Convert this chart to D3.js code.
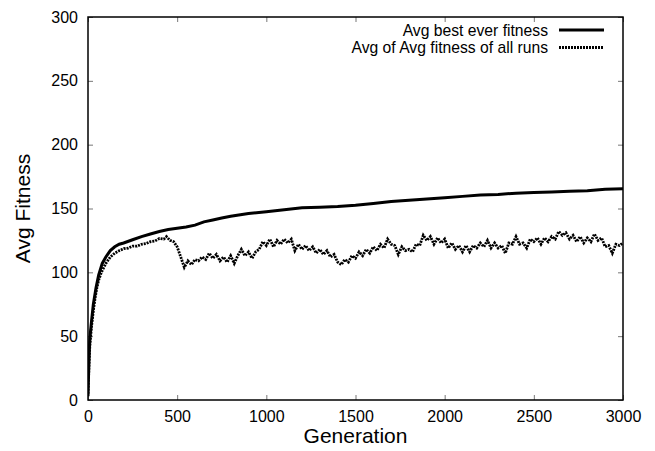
<!DOCTYPE html>
<html>
<head>
<meta charset="utf-8">
<script src="https://cdn.jsdelivr.net/npm/d3@7"></script>
<style>
  body { margin: 0; background: #fff; }
  #chart-area { width: 655px; height: 451px; }
  .axis text { font-family: "Liberation Sans", Arial, sans-serif; font-size: 16px; fill: #000; }
  .axis-title { font-family: "Liberation Sans", Arial, sans-serif; font-size: 21px; fill: #000; }
  .legend text { font-family: "Liberation Sans", Arial, sans-serif; font-size: 15.7px; fill: #000; }
</style>
</head>
<body>
<div id="chart-area"></div>
<script>

// generation / value pairs
var bestGen = [0, 5, 10, 20, 30, 45, 60, 80, 100, 125, 150, 175, 200, 250, 300, 350, 400, 450, 500, 550,
  600, 650, 700, 750, 800, 900, 1000, 1100, 1200, 1300, 1400, 1500, 1600, 1700, 1800, 1900, 2000,
  2100, 2200, 2300, 2400, 2500, 2600, 2700, 2800, 2900, 3000];
var bestVal = [3, 30, 48, 62, 75, 88, 98, 107, 112, 117, 120, 122, 123, 125.5, 128, 130, 132, 133.5, 134.5, 135.5,
  137, 139.5, 141, 142.5, 144, 146, 147.5, 149, 150.5, 151, 151.5, 152.5, 154, 155.5, 156.5, 157.5, 158.5,
  159.5, 160.5, 161, 162, 162.5, 163, 163.5, 164, 165, 165.5];

var avgGen = [0, 5, 10, 20, 30, 40, 50, 60, 75, 100, 125, 150, 175, 200, 225, 250, 275, 300, 325, 350,
  375, 400, 425, 440, 460, 480,
  500, 520, 540, 560, 580, 600, 620, 640, 660, 680, 700, 720, 740, 760, 780, 800, 820, 840, 860, 880,
  900, 920, 940, 960, 980, 1000, 1020, 1040, 1060, 1080, 1100, 1120, 1140, 1160, 1180, 1200, 1220, 1240, 1260, 1280,
  1300, 1320, 1340, 1360, 1380, 1400, 1420, 1440, 1460, 1480, 1500, 1520, 1540, 1560, 1580, 1600, 1620, 1640, 1660, 1680,
  1700, 1720, 1740, 1760, 1780, 1800, 1820, 1840, 1860, 1880, 1900, 1920, 1940, 1960, 1980, 2000, 2020, 2040, 2060, 2080,
  2100, 2120, 2140, 2160, 2180, 2200, 2220, 2240, 2260, 2280, 2300, 2320, 2340, 2360, 2380, 2400, 2420, 2440, 2460, 2480,
  2500, 2520, 2540, 2560, 2580, 2600, 2620, 2640, 2660, 2680, 2700, 2720, 2740, 2760, 2780, 2800, 2820, 2840, 2860, 2880,
  2900, 2920, 2940, 2960, 2980, 3000];
var avgVal = [5, 25, 42, 58, 70, 80, 88, 94, 100, 107, 112, 115, 117, 118.5, 119, 120.5, 120.5, 122, 122.5, 124,
  124.5, 126.5, 126, 128, 125, 124,
  120, 112, 104, 109, 106, 110, 109, 112, 110, 115, 111, 114, 109, 112, 108, 113, 107, 113, 118, 113,
  116, 111, 116, 118, 124, 121, 126, 120, 125, 122, 126, 123, 126, 117, 122, 118, 121, 117, 120, 115,
  118, 114, 117, 112, 114, 108, 106, 110, 108, 113, 111, 116, 113, 118, 115, 120, 117, 122, 119, 126,
  122, 121, 114, 120, 117, 118, 116, 122, 121, 129, 125, 128, 122, 127, 123, 126, 119, 123, 118, 121,
  116, 121, 116, 121, 119, 123, 120, 125, 119, 123, 119, 121, 115, 123, 122, 128, 122, 123, 119, 126,
  124, 127, 122, 127, 124, 128, 126, 132, 129, 131, 126, 129, 124, 128, 123, 127, 124, 130, 125, 127,
  120, 121, 115, 122, 121, 123];

var xTicks = [0, 500, 1000, 1500, 2000, 2500, 3000];
var yTicks = [0, 50, 100, 150, 200, 250, 300];

var seriesNames = ["Avg best ever fitness", "Avg of Avg fitness of all runs"];
var seriesDash = [null, "2,1"];


FitnessChart = function(_parentElement){
  this.parentElement = _parentElement;
  this.initVis();
}

FitnessChart.prototype.initVis = function(){
  var vis = this;

  vis.margin = { top: 17, right: 32, bottom: 51, left: 88 };
  vis.width = 655 - vis.margin.left - vis.margin.right;
  vis.height = 451 - vis.margin.top - vis.margin.bottom;

  vis.svg = d3.select("#" + vis.parentElement).append("svg")
      .attr("width", 655)
      .attr("height", 451)
    .append("g")
      .attr("transform", "translate(" + vis.margin.left + "," + vis.margin.top + ")");

  vis.x = d3.scaleLinear().range([0, vis.width]).domain([0, 3000]);
  vis.y = d3.scaleLinear().range([vis.height, 0]).domain([0, 300]);

  vis.svg.append("clipPath").attr("id", "plot-clip")
    .append("rect")
      .attr("width", vis.width)
      .attr("height", vis.height);

  // axes with inward ticks, mirrored on top/right
  var tickLen = 5;
  var fmt = d3.format("d");
  vis.svg.append("g")
      .attr("class", "x-axis axis")
      .attr("transform", "translate(0," + vis.height + ")")
      .call(d3.axisBottom(vis.x).tickValues(xTicks).tickFormat(fmt).tickSizeInner(-tickLen).tickSizeOuter(0).tickPadding(11));
  vis.svg.append("g")
      .attr("class", "y-axis axis")
      .call(d3.axisLeft(vis.y).tickValues(yTicks).tickFormat(fmt).tickSizeInner(-tickLen).tickSizeOuter(0).tickPadding(10));
  vis.svg.append("g")
      .attr("class", "axis")
      .call(d3.axisTop(vis.x).tickValues(xTicks).tickSizeInner(-tickLen).tickSizeOuter(0).tickFormat(""));
  vis.svg.append("g")
      .attr("class", "axis")
      .attr("transform", "translate(" + vis.width + ",0)")
      .call(d3.axisRight(vis.y).tickValues(yTicks).tickSizeInner(-tickLen).tickSizeOuter(0).tickFormat(""));

  vis.svg.selectAll(".axis .domain").remove();
  vis.svg.selectAll(".axis line").attr("stroke", "#777").attr("stroke-width", 1);

  vis.svg.append("rect")
      .attr("width", vis.width)
      .attr("height", vis.height)
      .attr("fill", "none")
      .attr("stroke", "#000")
      .attr("stroke-width", 1.5);

  vis.svg.append("text")
      .attr("class", "axis-title")
      .attr("x", vis.width / 2)
      .attr("y", vis.height + 43)
      .attr("text-anchor", "middle")
      .text("Generation");

  vis.svg.append("text")
      .attr("class", "axis-title")
      .attr("transform", "translate(-58," + (vis.height / 2) + ") rotate(-90)")
      .attr("text-anchor", "middle")
      .text("Avg Fitness");

  vis.updateVis();
}

FitnessChart.prototype.updateVis = function(){
  var vis = this;

  var best = bestGen.map(function(g, i) { return { g: g, v: bestVal[i] }; });
  var avg = avgGen.map(function(g, i) { return { g: g, v: avgVal[i] }; });

  var line = d3.line()
      .x(function(d) { return vis.x(d.g); })
      .y(function(d) { return vis.y(d.v); });

  var lines = vis.svg.append("g").attr("clip-path", "url(#plot-clip)");

  lines.append("path")
      .datum(avg)
      .attr("d", line)
      .attr("fill", "none")
      .attr("stroke", "#000")
      .attr("stroke-width", 2.8)
      .attr("stroke-dasharray", seriesDash[1]);

  lines.append("path")
      .datum(best)
      .attr("d", line)
      .attr("fill", "none")
      .attr("stroke", "#000")
      .attr("stroke-width", 3);

  // legend
  var legend = vis.svg.append("g").attr("class", "legend");
  var rows = legend.selectAll("g").data(seriesNames)
    .enter().append("g")
      .attr("transform", function(d, i) { return "translate(0," + (13 + i * 17.5) + ")"; });
  rows.append("text")
      .attr("x", 460)
      .attr("y", 5.5)
      .attr("text-anchor", "end")
      .text(function(d) { return d; });
  rows.append("line")
      .attr("x1", 471)
      .attr("x2", 516)
      .attr("stroke", "#000")
      .attr("stroke-width", function(d, i) { return i == 0 ? 3 : 2.8; })
      .attr("stroke-dasharray", function(d, i) { return seriesDash[i]; });
}

var chart = new FitnessChart("chart-area");
</script>
</body>
</html>
